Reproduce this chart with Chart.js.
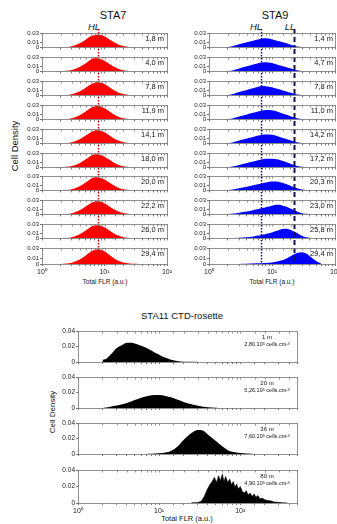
<!DOCTYPE html>
<html>
<head>
<meta charset="utf-8">
<script src="https://cdn.jsdelivr.net/npm/chart.js@4.4.1/dist/chart.umd.min.js"></script>
<style>
  body { margin: 0; background: #fff; font-family: 'Liberation Sans', Arial, sans-serif; }
  #page { position: relative; width: 337px; height: 524px; overflow: hidden; }
  #page canvas { position: absolute; }
  .t { position: absolute; transform: translate(-50%, -50%); white-space: nowrap; color: #111; line-height: 1; }
  .r { position: absolute; transform: translate(-100%, -50%); white-space: nowrap; color: #111; line-height: 1; }
  .rot { position: absolute; transform: translate(-50%, -50%) rotate(-90deg); white-space: nowrap; color: #111; line-height: 1; }
  sup { font-size: 70%; vertical-align: 0.45em; line-height: 0; }
</style>
</head>
<body>
<div id="page">
  <div class="t" style="left:113px;top:15px;font-size:11px">STA7</div>
  <div class="t" style="left:94px;top:27px;font-size:9.5px;font-style:italic">HL</div>
  <div class="t" style="left:275px;top:15px;font-size:11px">STA9</div>
  <div class="t" style="left:256px;top:27px;font-size:9.5px;font-style:italic">HL</div>
  <div class="t" style="left:290px;top:27px;font-size:9.5px;font-style:italic">LL</div>
  <div class="rot" style="left:15px;top:146px;font-size:9.5px">Cell Density</div>
  <div class="t" style="left:105px;top:282px;font-size:6.5px">Total FLR (a.u.)</div>
  <div class="t" style="left:272px;top:282px;font-size:6.5px">Total FLR (a.u.)</div>
  <div class="t" style="left:182px;top:316px;font-size:9.5px">STA11 CTD-rosette</div>
  <div class="rot" style="left:53px;top:412px;font-size:8px">Cell Density</div>
  <div class="t" style="left:187px;top:519px;font-size:7.5px">Total FLR (a.u.)</div>
</div>
<script>
// fluorescence bins (a.u.) for the STA7 / STA9 histograms
const flrBins = [1.5, 2, 2.5, 3, 4, 5, 6, 7, 8, 10, 12, 14, 17, 20, 25, 30, 35, 40, 50, 60];

const sta7Depths = ['1,8 m', '4,0 m', '7,8 m', '11,9 m', '14,1 m', '18,0 m', '20,0 m', '22,2 m', '26,0 m', '29,4 m'];
const sta7Density = [
  [0, 0.0002, 0.001, 0.0025, 0.0085, 0.016, 0.023, 0.026, 0.027, 0.023, 0.0165, 0.011, 0.0055, 0.0027, 0.0008, 0.0003, 0.0001, 0, 0, 0],
  [0, 0.0002, 0.0011, 0.0028, 0.009, 0.017, 0.0245, 0.0278, 0.027, 0.022, 0.0155, 0.0102, 0.005, 0.0024, 0.0007, 0.0002, 0.0001, 0, 0, 0],
  [0, 0.0002, 0.0009, 0.0024, 0.0082, 0.0158, 0.0228, 0.0262, 0.0272, 0.0235, 0.017, 0.0112, 0.0056, 0.0028, 0.0008, 0.0003, 0.0001, 0, 0, 0],
  [0, 0.0002, 0.001, 0.0026, 0.0088, 0.0166, 0.0238, 0.0275, 0.028, 0.0232, 0.0163, 0.0106, 0.0052, 0.0025, 0.0007, 0.0002, 0.0001, 0, 0, 0],
  [0, 0.0002, 0.001, 0.0025, 0.0086, 0.0163, 0.0234, 0.027, 0.0275, 0.0232, 0.0166, 0.0109, 0.0054, 0.0026, 0.0008, 0.0002, 0.0001, 0, 0, 0],
  [0, 0.0002, 0.0011, 0.0027, 0.0089, 0.0168, 0.024, 0.0272, 0.0268, 0.0222, 0.0158, 0.0104, 0.0051, 0.0025, 0.0007, 0.0002, 0.0001, 0, 0, 0],
  [0, 0.0002, 0.001, 0.0026, 0.0087, 0.0166, 0.0238, 0.0276, 0.0271, 0.0226, 0.016, 0.0105, 0.0052, 0.0025, 0.0007, 0.0002, 0.0001, 0, 0, 0],
  [0, 0.0002, 0.001, 0.0025, 0.0085, 0.0162, 0.0232, 0.0268, 0.0274, 0.0234, 0.0167, 0.011, 0.0055, 0.0027, 0.0008, 0.0003, 0.0001, 0, 0, 0],
  [0, 0.0002, 0.001, 0.0026, 0.0087, 0.0165, 0.0236, 0.0272, 0.0276, 0.0231, 0.0164, 0.0107, 0.0053, 0.0026, 0.0007, 0.0002, 0.0001, 0, 0, 0],
  [0, 0.0002, 0.001, 0.0025, 0.0084, 0.016, 0.023, 0.0266, 0.0277, 0.0237, 0.0169, 0.0111, 0.0055, 0.0027, 0.0008, 0.0003, 0.0001, 0, 0, 0]
];

const sta9Depths = ['1,4 m', '4,7 m', '7,8 m', '11,0 m', '14,2 m', '17,2 m', '20,3 m', '23,0 m', '25,8 m', '29,4 m'];
const sta9Density = [
  [0, 0.0008, 0.0035, 0.0066, 0.0107, 0.014, 0.0166, 0.0185, 0.019, 0.0171, 0.0141, 0.0116, 0.0084, 0.0057, 0.002, 0.0008, 0.0004, 0.0002, 0.0001, 0],
  [0, 0.0006, 0.003, 0.006, 0.0105, 0.0142, 0.017, 0.0188, 0.0192, 0.0175, 0.0145, 0.0118, 0.0085, 0.0058, 0.0022, 0.0009, 0.0005, 0.0002, 0.0001, 0],
  [0, 0.0008, 0.0036, 0.007, 0.0115, 0.015, 0.0182, 0.0195, 0.0193, 0.0168, 0.0138, 0.0112, 0.008, 0.0054, 0.0019, 0.0008, 0.0004, 0.0002, 0.0001, 0],
  [0, 0.0006, 0.003, 0.006, 0.0102, 0.0138, 0.0165, 0.0185, 0.0198, 0.0192, 0.0165, 0.0132, 0.0095, 0.0063, 0.0025, 0.001, 0.0005, 0.0003, 0.0001, 0],
  [0, 0.0005, 0.0028, 0.0058, 0.01, 0.0135, 0.0162, 0.018, 0.0188, 0.018, 0.0155, 0.0125, 0.009, 0.006, 0.0024, 0.001, 0.0005, 0.0002, 0.0001, 0],
  [0, 0.0005, 0.0025, 0.005, 0.009, 0.0122, 0.015, 0.0168, 0.0178, 0.018, 0.0168, 0.0142, 0.0105, 0.0072, 0.003, 0.0012, 0.0006, 0.0003, 0.0001, 0],
  [0.0002, 0.001, 0.0025, 0.0045, 0.0078, 0.0105, 0.013, 0.015, 0.0165, 0.0188, 0.0185, 0.0165, 0.0128, 0.0092, 0.0045, 0.0018, 0.0008, 0.0004, 0.0001, 0],
  [0.0002, 0.0008, 0.002, 0.0035, 0.006, 0.0085, 0.011, 0.0132, 0.015, 0.018, 0.02, 0.0192, 0.0158, 0.0118, 0.0062, 0.0025, 0.0011, 0.0005, 0.0002, 0],
  [0, 0.0002, 0.0006, 0.0012, 0.0025, 0.004, 0.0058, 0.0075, 0.0092, 0.0125, 0.016, 0.019, 0.02, 0.0175, 0.011, 0.005, 0.0022, 0.001, 0.0003, 0],
  [0, 0, 0.0001, 0.0002, 0.0005, 0.0008, 0.0012, 0.0016, 0.002, 0.003, 0.0045, 0.0065, 0.0105, 0.015, 0.0205, 0.022, 0.0195, 0.0145, 0.0055, 0.0008]
];

// HL / LL reference levels (a.u.)
const sta7HL = 7.9;
const sta9HL = 6.6;
const sta9LL = 22.4;

// STA11 CTD-rosette
const ctdBins = [2, 2.2, 2.5, 3, 3.5, 4, 4.5, 5, 6, 7, 8, 10, 12, 14, 17, 20, 25, 30, 35, 40, 50, 60, 70, 80, 100, 120, 150, 200, 250, 300, 400];
const ctd1m = [0.003, 0.004, 0.009, 0.018, 0.022, 0.025, 0.025, 0.024, 0.021, 0.018, 0.015, 0.0095, 0.0055, 0.003, 0.0012, 0.0006, 0.0003, 0.0002, 0.0001, 0, 0, 0, 0, 0, 0, 0, 0, 0, 0, 0, 0];
const ctd20m = [0, 0.0008, 0.0018, 0.0032, 0.0049, 0.0066, 0.0085, 0.0103, 0.0133, 0.0153, 0.0165, 0.0169, 0.0157, 0.0138, 0.0107, 0.008, 0.0049, 0.003, 0.0018, 0.0011, 0.0005, 0.0002, 0.0001, 0, 0, 0, 0, 0, 0, 0, 0];
const ctd36m = [0, 0, 0, 0, 0, 0, 0, 0, 0, 0.0002, 0.0004, 0.001, 0.002, 0.004, 0.01, 0.018, 0.027, 0.031, 0.03, 0.025, 0.017, 0.01, 0.005, 0.003, 0.0015, 0.0007, 0.0002, 0, 0, 0, 0];
const ctd80mBins = [25, 30, 33, 36, 39, 42, 45, 48, 51, 54, 57, 60, 63, 66, 70, 74, 78, 82, 86, 90, 95, 100, 106, 112, 118, 125, 132, 140, 148, 156, 165, 175, 185, 200, 220, 240, 260, 290, 330, 380];
const ctd80m = [0.0003, 0.0005, 0.002, 0.008, 0.016, 0.022, 0.026, 0.031, 0.025, 0.033, 0.027, 0.035, 0.026, 0.032, 0.025, 0.029, 0.022, 0.026, 0.019, 0.023, 0.017, 0.02, 0.014, 0.012, 0.015, 0.01, 0.012, 0.008, 0.011, 0.007, 0.009, 0.005, 0.006, 0.004, 0.003, 0.0025, 0.0012, 0.0008, 0.0004, 0.0001];
const ctdDepths = ['1 m', '20 m', '36 m', '80 m'];
const ctdCounts = ['2,80', '5,26', '7,60', '4,90'];

const staYTicks = [0, 0.01, 0.03];
const ctdYTicks = [0, 0.02, 0.04];

Chart.defaults.font.family = "'Liberation Sans', Arial, sans-serif";
Chart.defaults.color = '#222';

const page = document.getElementById('page');
const supDigits = ['\u2070', '\u00b9', '\u00b2', '\u00b3'];

function addText(cls, html, x, y, size) {
  const d = document.createElement('div');
  d.className = cls;
  d.innerHTML = html;
  d.style.left = x + 'px';
  d.style.top = y + 'px';
  d.style.fontSize = size + 'px';
  page.appendChild(d);
}

// box round the plot area, inner ticks on top, HL/LL marker lines
const frame = {
  id: 'frame',
  afterDatasetsDraw(chart, args, opts) {
    const { ctx, chartArea: a, scales: { x } } = chart;
    (opts.marks || []).forEach(m => {
      const px = Math.round(x.getPixelForValue(m.value)) + 0.5;
      ctx.save();
      ctx.strokeStyle = m.color;
      ctx.lineWidth = m.width;
      ctx.setLineDash(m.dash);
      ctx.beginPath();
      ctx.moveTo(px, opts.lineTop);
      ctx.lineTo(px, a.bottom);
      ctx.stroke();
      ctx.restore();
    });
    ctx.save();
    ctx.strokeStyle = '#777';
    ctx.lineWidth = 0.8;
    const l = Math.round(a.left) + 0.5, t = Math.round(a.top) + 0.5;
    ctx.strokeRect(l, t, Math.round(a.right) - Math.round(a.left), Math.round(a.bottom) - Math.round(a.top));
    ctx.beginPath();
    x.ticks.forEach(tk => {
      const px = Math.round(x.getPixelForValue(tk.value)) + 0.5;
      ctx.moveTo(px, t);
      ctx.lineTo(px, t + 2);
    });
    ctx.stroke();
    ctx.restore();
  }
};

function histPanel(o) {
  const yw = o.yw, padTop = o.padTop, padRight = 10;
  const xh = o.showX ? o.xLabelH : 3;
  const W = yw + o.w + padRight, H = padTop + o.h + xh;
  const c = document.createElement('canvas');
  c.width = W;
  c.height = H;
  c.style.left = (o.left - yw) + 'px';
  c.style.top = (o.top - padTop) + 'px';
  c.style.width = W + 'px';
  c.style.height = H + 'px';
  page.appendChild(c);
  return new Chart(c, {
    type: 'line',
    data: {
      datasets: [{
        data: o.bins.map((x, i) => ({ x: x, y: o.vals[i] })),
        fill: 'origin',
        backgroundColor: o.color,
        borderColor: o.color,
        borderWidth: o.jagged ? 0.6 : 0,
        pointRadius: 0,
        tension: o.jagged ? 0 : 0.4,
        cubicInterpolationMode: o.jagged ? 'default' : 'monotone'
      }]
    },
    options: {
      responsive: false,
      animation: false,
      devicePixelRatio: 1,
      layout: { padding: { top: padTop, right: padRight, left: 0, bottom: 0 } },
      plugins: {
        legend: { display: false },
        tooltip: { enabled: false },
        frame: { marks: o.marks || [], lineTop: o.lineTop || 0 }
      },
      scales: {
        x: {
          type: 'logarithmic', min: 1, max: o.xMax,
          afterFit: s => { s.height = xh; },
          border: { display: false },
          grid: { drawOnChartArea: false, tickLength: 2, color: '#777' },
          ticks: {
            display: o.showX, autoSkip: false, maxRotation: 0, padding: 2,
            font: { size: o.xFont },
            callback: v => {
              const lg = Math.log10(v), p = Math.round(lg);
              return Math.abs(lg - p) < 1e-6 ? '10' + supDigits[p] : '';
            }
          }
        },
        y: {
          min: 0, max: o.yTicks[o.yTicks.length - 1],
          afterBuildTicks: s => { s.ticks = o.yTicks.map(v => ({ value: v })); },
          afterFit: s => { s.width = yw; },
          border: { display: false },
          grid: { drawOnChartArea: false, tickLength: 2, color: '#777' },
          ticks: {
            autoSkip: false, padding: 1,
            font: { size: o.yFont },
            callback: v => v === 0 ? '0' : v.toFixed(2)
          }
        }
      }
    },
    plugins: [frame]
  });
}

const rowTop = i => Math.round(33 + i * 23.9);

sta7Density.forEach((vals, i) => {
  histPanel({
    left: 42, w: 125, top: rowTop(i), h: 16, yw: 26, padTop: 8,
    showX: i === sta7Density.length - 1, xLabelH: 14, xMax: 100,
    bins: flrBins, vals: vals, color: '#ff0000',
    yTicks: staYTicks, yFont: 6, xFont: 7,
    marks: [{ value: sta7HL, color: '#e00000', width: 1.5, dash: [1.5, 1.5] }],
    lineTop: i === 0 ? 4 : 0
  });
  addText('r', sta7Depths[i], 164, rowTop(i) + 6, 7.5);
});

sta9Density.forEach((vals, i) => {
  histPanel({
    left: 209, w: 126, top: rowTop(i), h: 16, yw: 26, padTop: 8,
    showX: i === sta9Density.length - 1, xLabelH: 14, xMax: 100,
    bins: flrBins, vals: vals, color: '#0000ff',
    yTicks: staYTicks, yFont: 6, xFont: 7,
    marks: [
      { value: sta9HL, color: '#12126a', width: 1.5, dash: [1.5, 1.5] },
      { value: sta9LL, color: '#12125a', width: 2, dash: [5, 3] }
    ],
    lineTop: i === 0 ? 4 : 0
  });
  addText('r', sta9Depths[i], 333, rowTop(i) + 6, 7.5);
});

const ctdTops = [331, 377, 423, 470];
const ctdSeries = [ctd1m, ctd20m, ctd36m, ctd80m];
ctdSeries.forEach((vals, i) => {
  const last = i === ctdSeries.length - 1;
  histPanel({
    left: 78, w: 219, top: ctdTops[i], h: 33, yw: 26, padTop: 10,
    showX: last, xLabelH: 14, xMax: 500,
    bins: last ? ctd80mBins : ctdBins, vals: vals, color: '#000000',
    jagged: last,
    yTicks: ctdYTicks, yFont: 6.5, xFont: 7
  });
  addText('t', ctdDepths[i], 267, ctdTops[i] + 6, 6);
  addText('t', ctdCounts[i] + '.10<sup>5</sup> cells.cm<sup>-3</sup>', 267, ctdTops[i] + 13.5, 5.5);
});
</script>
</body>
</html>
